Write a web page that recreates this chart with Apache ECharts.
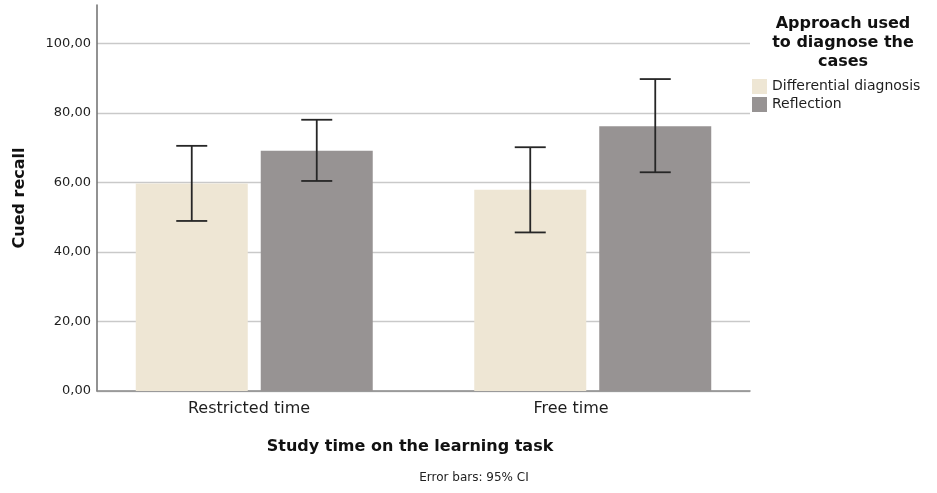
<!DOCTYPE html>
<html>
<head>
<meta charset="utf-8">
<script src="https://cdn.jsdelivr.net/npm/echarts@6/dist/echarts.min.js"></script>
<style>
  html, body { margin: 0; padding: 0; background: #fff; }
  #chart { width: 937px; height: 493px; }
</style>
</head>
<body>
<div id="chart"></div>
<script>
// Cued recall by study time and diagnostic approach (means with 95% CI)
const categories = ['Restricted time', 'Free time'];
const seriesNames = ['Differential diagnosis', 'Reflection'];

const diffMean = [59.7, 57.9];
const diffLow  = [48.9, 45.6];
const diffHigh = [70.5, 70.1];

const reflMean = [69.1, 76.1];
const reflLow  = [60.4, 62.9];
const reflHigh = [78.0, 89.7];

const yTicks = [0, 20, 40, 60, 80, 100];

const FONT = 'DejaVu Sans';
const BAR_W = 112;
const BAR_GAP_PX = 13;
const CAP_HALF = 15.5;
const Y_MAX = 111;

const fmt = v => v.toFixed(2).replace('.', ',');

function errorSeries(name, low, high, sign) {
  return {
    type: 'custom',
    name: name + ' CI',
    xAxisIndex: 1,
    yAxisIndex: 1,
    z: 10,
    silent: true,
    data: categories.map((c, i) => [i, low[i], high[i]]),
    renderItem: function (params, api) {
      const lo = api.coord([api.value(0), api.value(1)]);
      const hi = api.coord([api.value(0), api.value(2)]);
      const x = lo[0] + sign * (BAR_W + BAR_GAP_PX) / 2;
      const style = { stroke: '#262626', lineWidth: 1.8 };
      return {
        type: 'group',
        children: [
          { type: 'line', shape: { x1: x, y1: hi[1], x2: x, y2: lo[1] }, style: style },
          { type: 'line', shape: { x1: x - CAP_HALF, y1: hi[1], x2: x + CAP_HALF, y2: hi[1] }, style: style },
          { type: 'line', shape: { x1: x - CAP_HALF, y1: lo[1], x2: x + CAP_HALF, y2: lo[1] }, style: style }
        ]
      };
    }
  };
}

const chart = echarts.init(document.getElementById('chart'), null, { renderer: 'canvas' });

const gridTop = 5;
const gridBottom = 102;

chart.setOption({
  animation: false,
  backgroundColor: '#ffffff',
  textStyle: { fontFamily: FONT },
  grid: [
    { left: 97, width: 653, top: gridTop, bottom: gridBottom },   // frame, gridlines
    { left: 85, width: 677, top: gridTop, bottom: gridBottom },   // bars
    { left: 88, width: 644, top: gridTop, bottom: gridBottom }    // category labels
  ],
  xAxis: [
    {
      gridIndex: 0, type: 'category', data: categories,
      axisLine: { lineStyle: { color: '#8a8a8a', width: 1.5 } },
      axisTick: { show: false }, axisLabel: { show: false }, splitLine: { show: false }
    },
    {
      gridIndex: 1, type: 'category', data: categories, show: false
    },
    {
      gridIndex: 2, type: 'category', data: categories,
      axisLine: { show: false }, axisTick: { show: false },
      axisLabel: { fontFamily: FONT, fontSize: 16, color: '#1e1e1e', margin: 10 },
      name: 'Study time on the learning task',
      nameLocation: 'middle', nameGap: 48,
      nameTextStyle: { fontFamily: FONT, fontSize: 16, fontWeight: 'bold', color: '#111' }
    }
  ],
  yAxis: [
    {
      gridIndex: 0, type: 'value', min: 0, max: Y_MAX, interval: 20,
      axisLine: { show: true, lineStyle: { color: '#6e6e6e', width: 1.5 } },
      axisTick: { show: false },
      axisLabel: {
        fontFamily: FONT, fontSize: 13, color: '#1e1e1e', margin: 6,
        showMaxLabel: false,
        formatter: v => (yTicks.indexOf(v) >= 0 ? fmt(v) : '')
      },
      splitLine: {
        show: true,
        lineStyle: {
          color: ['#c9c9c9', '#c9c9c9', '#c9c9c9', '#c9c9c9', '#c9c9c9', '#c9c9c9', 'rgba(0,0,0,0)'],
          width: 1.3
        }
      },
      name: 'Cued recall', nameLocation: 'middle', nameGap: 69, nameRotate: 90,
      nameTextStyle: { fontFamily: FONT, fontSize: 16, fontWeight: 'bold', color: '#111' }
    },
    { gridIndex: 1, type: 'value', min: 0, max: Y_MAX, show: false, splitLine: { show: false } },
    { gridIndex: 2, type: 'value', min: 0, max: Y_MAX, show: false, splitLine: { show: false } }
  ],
  legend: {
    orient: 'vertical',
    left: 752, top: 79,
    padding: 0,
    itemWidth: 15, itemHeight: 15, itemGap: 3,
    icon: 'rect',
    data: seriesNames,
    textStyle: { fontFamily: FONT, fontSize: 14, color: '#1e1e1e' }
  },
  graphic: [
    {
      type: 'text', x: 843, y: 14,
      style: {
        text: 'Approach used\nto diagnose the\ncases',
        align: 'center',
        font: 'bold 16px "DejaVu Sans"',
        lineHeight: 19, fill: '#111'
      }
    },
    {
      type: 'text', x: 474, y: 478,
      style: {
        text: 'Error bars: 95% CI',
        align: 'center', verticalAlign: 'middle',
        font: '12px "DejaVu Sans"', fill: '#222'
      }
    }
  ],
  series: [
    {
      name: seriesNames[0], type: 'bar', xAxisIndex: 1, yAxisIndex: 1,
      data: diffMean, barWidth: BAR_W, barGap: (BAR_GAP_PX / BAR_W * 100).toFixed(1) + '%',
      itemStyle: { color: '#EEE6D4' }
    },
    {
      name: seriesNames[1], type: 'bar', xAxisIndex: 1, yAxisIndex: 1,
      data: reflMean, barWidth: BAR_W, barGap: (BAR_GAP_PX / BAR_W * 100).toFixed(1) + '%',
      itemStyle: { color: '#979393' }
    },
    errorSeries(seriesNames[0], diffLow, diffHigh, -1),
    errorSeries(seriesNames[1], reflLow, reflHigh, 1)
  ]
});
</script>
</body>
</html>
